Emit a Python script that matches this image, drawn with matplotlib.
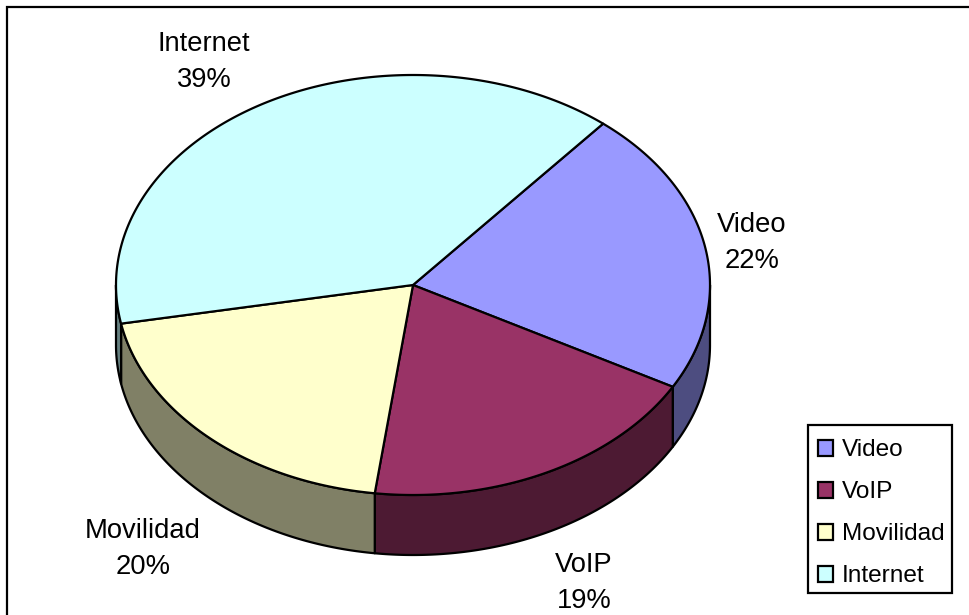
import numpy as np
import matplotlib
matplotlib.use("Agg")
import matplotlib.pyplot as plt
from matplotlib.patches import Polygon, Patch, Rectangle

categories = ["Video", "VoIP", "Movilidad", "Internet"]
shares = [22, 19, 20, 39]
top_colors = ["#9999FF", "#993366", "#FFFFCC", "#CCFFFF"]
side_colors = ["#4D4D80", "#4D1A33", "#808066", "#668080"]
label_centers = [(752, 243), (584, 583), (143, 549), (204, 62)]

CX, CY = 413, 285      # centre of the top ellipse, px
RX, RY = 297, 210      # ellipse radii, px
DEPTH = 60             # height of the pie wall, px
START = 39.8           # degrees clockwise from 12 o'clock
LW = 1.6

plt.rcParams["font.family"] = ["Liberation Sans", "DejaVu Sans"]

fig = plt.figure(figsize=(9.7, 6.15), dpi=100)
ax = fig.add_axes([0, 0, 1, 1])
ax.set_xlim(0, 970)
ax.set_ylim(615, 0)
ax.axis("off")


def arc(a0, a1, drop=0.0):
    """Points along the ellipse from a0 to a1 (degrees clockwise from top)."""
    t = np.radians(np.linspace(a0, a1, max(int(abs(a1 - a0)) * 2, 2)))
    return np.column_stack([CX + RX * np.sin(t), CY - RY * np.cos(t) + drop])


ax.add_patch(Rectangle((7, 6.5), 1000, 700, fc="white", ec="black", lw=LW, zorder=0))

edges = START + np.cumsum([0] + shares) * 3.6

# Walls: only the part of each slice on the near half of the ellipse shows.
for i in range(len(shares)):
    lo, hi = max(edges[i], 90), min(edges[i + 1], 270)
    if lo < hi:
        pts = np.vstack([arc(lo, hi), arc(lo, hi, DEPTH)[::-1]])
        ax.add_patch(Polygon(pts, closed=True, fc=side_colors[i], ec="black",
                             lw=LW, joinstyle="round", zorder=1))

# Top faces
for i in range(len(shares)):
    pts = np.vstack([[CX, CY], arc(edges[i], edges[i + 1])])
    ax.add_patch(Polygon(pts, closed=True, fc=top_colors[i], ec="black",
                         lw=LW, joinstyle="round", zorder=2))

for name, share, (x, y) in zip(categories, shares, label_centers):
    ax.text(x, y, f"{name}\n{share}%", ha="center", va="center",
            fontsize=19.7, linespacing=1.54, color="black", zorder=3)

# Legend box is drawn on its own so its padding can be uneven top to bottom.
ax.add_patch(Rectangle((808.5, 425), 143.5, 168, fc="white", ec="black", lw=LW, zorder=3))
handles = [Patch(fc=c, ec="black", lw=LW) for c in top_colors]
leg = ax.legend(handles, categories, loc="upper left",
                bbox_to_anchor=(808, 429), bbox_transform=ax.transData,
                borderaxespad=0, fontsize=17.6, frameon=False,
                handlelength=0.62, handleheight=0.62, handletextpad=0.36,
                labelspacing=0.82, borderpad=0.42)
leg.set_zorder(4)

fig.savefig("out.png", dpi=100, facecolor="white")
